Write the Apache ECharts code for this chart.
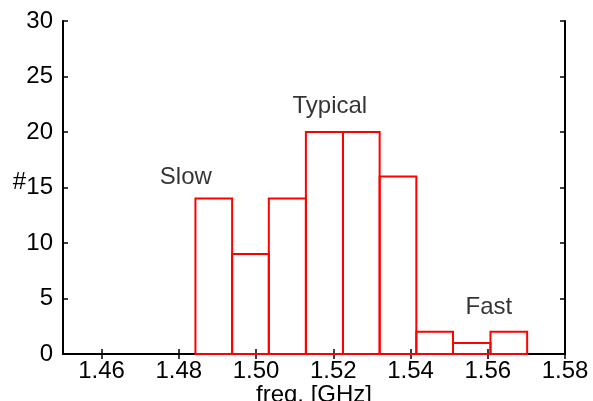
<!DOCTYPE html>
<html>
<head>
<meta charset="utf-8">
<script src="https://cdn.jsdelivr.net/npm/echarts@6/dist/echarts.min.js"></script>
<style>
  html, body { margin: 0; padding: 0; background: #fff; }
  #chart { width: 593px; height: 401px; }
</style>
</head>
<body>
<div id="chart"></div>
<script>
// histogram bin edges (GHz) and counts
const binEdges = [1.4843, 1.4938, 1.5033, 1.5129, 1.5225, 1.5320, 1.5415, 1.5510, 1.5607, 1.5702]
const counts = [14, 9, 14, 20, 20, 16, 2, 1, 2]
const xTicks = [1.46, 1.48, 1.50, 1.52, 1.54, 1.56, 1.58]

// text annotations (data coordinates)
const noteNames = ['Slow', 'Typical', 'Fast']
const noteX = [1.4818, 1.5191, 1.5603]
const noteY = [15.9, 22.3, 4.2]

const font = 'Liberation Sans, Arial, sans-serif'
const fs = 24

const bins = counts.map((c, i) => [binEdges[i], binEdges[i + 1], c])
const notes = noteNames.map((n, i) => ({ name: n, value: [noteX[i], noteY[i]] }))

const chart = echarts.init(document.getElementById('chart'))

const axisLine = { show: true, lineStyle: { color: '#000', width: 2 } }
const tickStyle = { inside: true, length: 5, lineStyle: { color: '#000', width: 1.5 } }

chart.setOption({
  animation: false,
  grid: { left: 63, right: 28, top: 21, bottom: 47, outerBoundsMode: 'none' },
  xAxis: [{
    type: 'value',
    min: 1.45,
    max: 1.58,
    name: 'freq. [GHz]',
    nameLocation: 'middle',
    nameGap: 29,
    nameMoveOverlap: false,
    nameTextStyle: { color: '#000', fontSize: fs, fontFamily: font },
    axisLine: axisLine,
    axisTick: Object.assign({ customValues: xTicks }, tickStyle),
    axisLabel: {
      customValues: xTicks,
      formatter: v => v.toFixed(2),
      color: '#000', fontSize: fs, fontFamily: font, margin: 5
    },
    splitLine: { show: false }
  }, {
    type: 'value',
    position: 'top',
    min: 1.45,
    max: 1.58,
    axisLine: axisLine,
    axisTick: Object.assign({ customValues: xTicks }, tickStyle),
    axisLabel: { show: false },
    splitLine: { show: false }
  }],
  yAxis: [{
    type: 'value',
    min: 0,
    max: 30,
    interval: 5,
    name: '#',
    nameLocation: 'middle',
    nameRotate: 0,
    nameGap: 37,
    nameMoveOverlap: false,
    nameTextStyle: { color: '#000', fontSize: fs, fontFamily: font, verticalAlign: 'bottom', lineHeight: 10 },
    axisLine: axisLine,
    axisTick: tickStyle,
    axisLabel: { color: '#000', fontSize: fs, fontFamily: font, margin: 10 },
    splitLine: { show: false }
  }, {
    type: 'value',
    position: 'right',
    min: 0,
    max: 30,
    interval: 5,
    axisLine: axisLine,
    axisTick: tickStyle,
    axisLabel: { show: false },
    splitLine: { show: false }
  }],
  series: [
    {
      type: 'custom',
      data: bins,
      renderItem(params, api) {
        const p0 = api.coord([api.value(0), api.value(2)])
        const p1 = api.coord([api.value(1), 0])
        return {
          type: 'rect',
          shape: { x: p0[0], y: p0[1], width: p1[0] - p0[0], height: p1[1] - p0[1] },
          style: { fill: 'none', stroke: '#ff0000', lineWidth: 2 }
        }
      }
    },
    {
      type: 'scatter',
      data: notes,
      symbolSize: 1,
      itemStyle: { color: 'rgba(0,0,0,0)' },
      label: {
        show: true,
        position: 'inside',
        formatter: p => p.name,
        color: '#000',
        fontSize: fs,
        fontFamily: font
      }
    }
  ]
})
</script>
</body>
</html>
